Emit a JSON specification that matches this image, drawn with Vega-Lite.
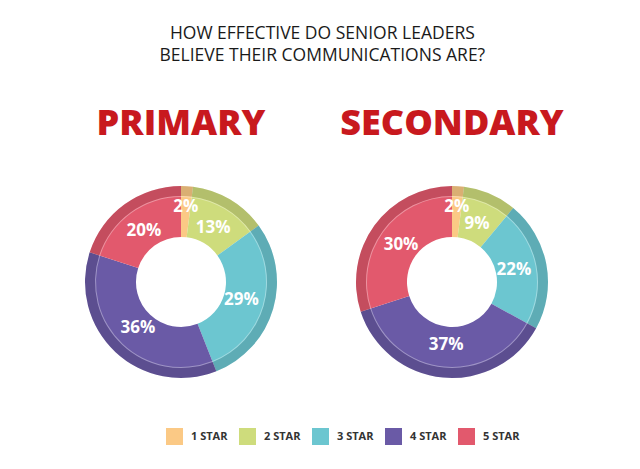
{
  "$schema": "https://vega.github.io/schema/vega-lite/v6.json",
  "background": "white",
  "padding": {"left": 81, "top": 24, "right": 0, "bottom": 0},
  "title": {
    "text": ["HOW EFFECTIVE DO SENIOR LEADERS", "BELIEVE THEIR COMMUNICATIONS ARE?"],
    "font": "Open Sans",
    "fontSize": 17.5,
    "fontWeight": 500,
    "color": "#1a1a1a",
    "lineHeight": 22,
    "anchor": "middle",
    "offset": 42
  },
  "data": {
    "values": [
      {"school": "PRIMARY", "star": "1 STAR", "pct": 0.02},
      {"school": "PRIMARY", "star": "2 STAR", "pct": 0.13},
      {"school": "PRIMARY", "star": "3 STAR", "pct": 0.29},
      {"school": "PRIMARY", "star": "4 STAR", "pct": 0.36},
      {"school": "PRIMARY", "star": "5 STAR", "pct": 0.20},
      {"school": "SECONDARY", "star": "1 STAR", "pct": 0.02},
      {"school": "SECONDARY", "star": "2 STAR", "pct": 0.09},
      {"school": "SECONDARY", "star": "3 STAR", "pct": 0.22},
      {"school": "SECONDARY", "star": "4 STAR", "pct": 0.37},
      {"school": "SECONDARY", "star": "5 STAR", "pct": 0.30}
    ]
  },
  "facet": {
    "column": {
      "field": "school",
      "type": "nominal",
      "sort": ["PRIMARY", "SECONDARY"],
      "header": {
        "title": null,
        "labelFont": "Open Sans",
        "labelFontSize": 36,
        "labelFontWeight": 800,
        "labelColor": "#c8191e",
        "labelPadding": 39
      }
    }
  },
  "spacing": {"column": 71},
  "spec": {
    "width": 200,
    "height": 200,
    "encoding": {
      "theta": {"field": "pct", "type": "quantitative", "stack": true},
      "order": {"field": "star", "type": "ordinal"}
    },
    "layer": [
      {
        "mark": {"type": "arc", "radius": 96, "radius2": 45},
        "encoding": {
          "color": {
            "field": "star",
            "type": "nominal",
            "scale": {
              "domain": ["1 STAR", "2 STAR", "3 STAR", "4 STAR", "5 STAR"],
              "range": ["#fbc985", "#cedc7c", "#6cc6d0", "#6a5aa6", "#e2596d"]
            },
            "legend": {
              "orient": "none",
              "direction": "horizontal",
              "legendX": 85,
              "legendY": 246,
              "title": null,
              "symbolType": "square",
              "symbolSize": 289,
              "symbolStrokeWidth": 0,
              "symbolOpacity": 1,
              "labelFont": "Open Sans",
              "labelFontSize": 11,
              "labelFontWeight": "bold",
              "labelColor": "#333333",
              "labelOffset": 8,
              "columnPadding": 11
            }
          }
        }
      },
      {
        "mark": {"type": "arc", "radius": 96, "radius2": 86, "fill": "black", "opacity": 0.13},
        "encoding": {}
      },
      {
        "mark": {"type": "arc", "radius": 86, "radius2": 85, "fill": "white", "opacity": 0.35},
        "encoding": {}
      },
      {
        "mark": {
          "type": "text",
          "radius": {"expr": "datum.star === '1 STAR' ? 75 : 63"},
          "font": "Open Sans",
          "fontSize": 17,
          "fontWeight": "bold",
          "fill": "white"
        },
        "encoding": {
          "text": {"field": "pct", "type": "quantitative", "format": ".0%"}
        }
      }
    ]
  },
  "config": {"view": {"stroke": null}}
}
